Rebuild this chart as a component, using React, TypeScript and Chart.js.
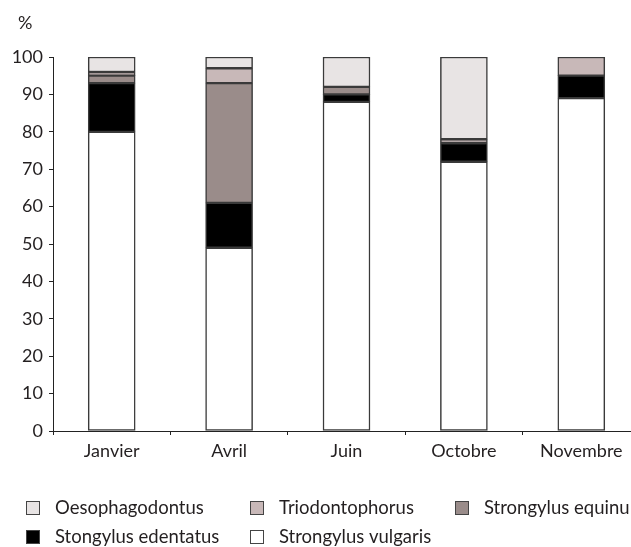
import React, { useEffect, useRef } from "react";
import { Chart, registerables } from "chart.js";

Chart.register(...registerables);

const categories = ["Janvier", "Avril", "Juin", "Octobre", "Novembre"];
const vulgaris = [80, 49, 88, 72, 89];
const edentatus = [13, 12, 2, 5, 6];
const equinus = [2, 32, 2, null, null];
const triodontophorus = [1, 4, null, 1, 5];
const oesophagodontus = [4, 3, 8, 22, null];
const legendOrder = ["Oesophagodontus", "Triodontophorus", "Strongylus equinu", "Stongylus edentatus", "Strongylus vulgaris"];
const yTicks = [0, 10, 20, 30, 40, 50, 60, 70, 80, 90, 100];

const FONT = "Lato, 'Open Sans', sans-serif";
const TEXT = "#231f20";

const colors: Record<string, string> = {
  "Strongylus vulgaris": "#ffffff",
  "Stongylus edentatus": "#000000",
  "Strongylus equinu": "#9a8c8a",
  "Triodontophorus": "#c8b8b8",
  "Oesophagodontus": "#e8e4e4",
};

const extrasPlugin = {
  id: "extras",
  afterDraw(chart: any) {
    const ctx = chart.ctx;
    ctx.save();
    ctx.fillStyle = TEXT;
    ctx.font = `18px ${FONT}`;
    ctx.textBaseline = "middle";
    ctx.textAlign = "left";
    ctx.fillText("%", 18, 23);
    // legend grid
    const cols = [26, 250, 455];
    const rows = [508, 537];
    ctx.font = `18.5px ${FONT}`;
    legendOrder.forEach((name, i) => {
      const c = i % 3;
      const r = Math.floor(i / 3);
      const x = cols[c];
      const y = rows[r];
      ctx.fillStyle = colors[name];
      ctx.fillRect(x + 0.5, y - 6.5, 13, 13);
      ctx.strokeStyle = "#444";
      ctx.lineWidth = 1;
      ctx.strokeRect(x + 0.5, y - 6.5, 13, 13);
      ctx.fillStyle = TEXT;
      ctx.fillText(name, x + 29, y);
    });
    ctx.restore();
  },
};

export default function App() {
  const ref = useRef<HTMLCanvasElement>(null);
  useEffect(() => {
    if (!ref.current) return;
    const mk = (label: string, data: (number | null)[]) => ({
      label,
      data,
      backgroundColor: colors[label],
      borderColor: "#3a3a3a",
      borderWidth: 1.5,
      borderSkipped: false,
      barThickness: 47,
    });
    const chart = new Chart(ref.current, {
      type: "bar",
      data: {
        labels: categories,
        datasets: [
          mk("Strongylus vulgaris", vulgaris),
          mk("Stongylus edentatus", edentatus),
          mk("Strongylus equinu", equinus),
          mk("Triodontophorus", triodontophorus),
          mk("Oesophagodontus", oesophagodontus),
        ],
      },
      options: {
        animation: false,
        responsive: false,
        devicePixelRatio: 1,
        layout: { padding: { top: 57, left: 0, right: 20, bottom: 76 } },
        plugins: { legend: { display: false }, title: { display: false }, tooltip: { enabled: false } },
        scales: {
          x: {
            stacked: true,
            afterFit: (s: any) => { s.height = 40; },
            grid: { drawOnChartArea: false, drawTicks: true, tickLength: 4, offset: true, color: "#222" },
            border: { display: true, color: "#222", width: 1 },
            ticks: { color: TEXT, font: { family: FONT, size: 18 }, padding: 5 },
          },
          y: {
            stacked: true,
            min: 0,
            max: 100,
            afterFit: (s: any) => { s.width = 53; },
            afterBuildTicks: (s: any) => { s.ticks = yTicks.map((v) => ({ value: v })); },
            grid: { drawOnChartArea: false, drawTicks: true, tickLength: 4, color: "#222" },
            border: { display: true, color: "#222", width: 1 },
            ticks: { color: TEXT, font: { family: FONT, size: 18 }, padding: 6 },
          },
        },
      },
      plugins: [extrasPlugin],
    });
    return () => chart.destroy();
  }, []);
  return (
    <div style={{ position: "fixed", left: 0, top: 0, width: 631, height: 547, overflow: "hidden", background: "#fff" }}>
      <canvas ref={ref} width={660} height={547} style={{ display: "block", width: 660, height: 547 }} />
    </div>
  );
}
